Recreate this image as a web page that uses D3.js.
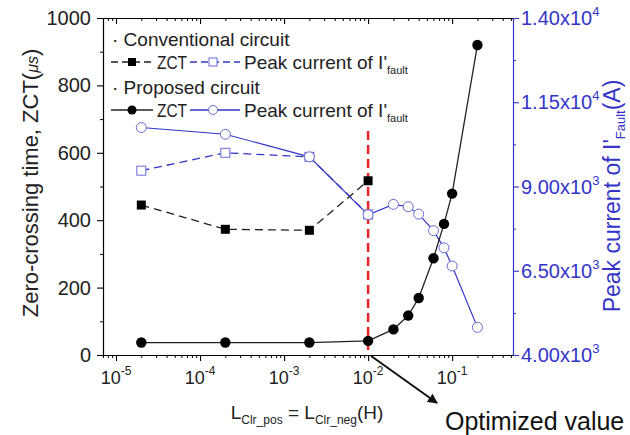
<!DOCTYPE html>
<html>
<head>
<meta charset="utf-8">
<script src="https://cdn.jsdelivr.net/npm/d3@7"></script>
<style>
  body { margin: 0; background: #fff; }
  text { font-family: Arial, "Liberation Sans", sans-serif; }
</style>
</head>
<body>
<div id="chart"></div>
<script>
// values
const convL = [2e-5, 2e-4, 2e-3, 1e-2];
const convZct = [445, 373, 370, 517];
const convPeak = [9470, 10000, 9880, 8170];

const propL = [2e-5, 2e-4, 2e-3, 1e-2, 2e-2, 3e-2, 4e-2, 6e-2, 8e-2, 1e-1, 2e-1];
const propZct = [37, 37, 37, 42, 76, 117, 169, 287, 389, 479, 920];
const propPeak = [10750, 10550, 9880, 8160, 8470, 8400, 8180, 7690, 7180, 6640, 4820];

const xMajor = [1e-5, 1e-4, 1e-3, 1e-2, 1e-1];
const yLeftTicks = [0, 200, 400, 600, 800, 1000];
const yRightTicks = [4000, 6500, 9000, 11500, 14000];
const optimumL = 1e-2;

const width = 630, height = 435;
const margin = {top: 18, right: 117, bottom: 80, left: 103};
const blue = "#3434c8";

const svg = d3.select("#chart").append("svg")
  .attr("width", width).attr("height", height);

const x = d3.scaleLog().domain([7e-6, 0.53]).range([margin.left, width - margin.right]);
const yL = d3.scaleLinear().domain([0, 1000]).range([height - margin.bottom, margin.top]);
const yR = d3.scaleLinear().domain([4000, 14000]).range([height - margin.bottom, margin.top]);

// minor ticks
let xMinor = [];
for (let e = -6; e <= 0; e++) for (let k = 2; k <= 9; k++) {
  const v = k * Math.pow(10, e);
  if (v >= x.domain()[0] && v <= x.domain()[1]) xMinor.push(v);
}
const yLeftMinor = yLeftTicks.slice(0, -1).map(v => v + 100);
const yRightMinor = yRightTicks.slice(0, -1).map(v => v + 1250);

const y0 = height - margin.bottom;

function styleAxis(g, color) {
  g.select(".domain").attr("stroke", color).attr("stroke-width", 1.2);
  g.selectAll(".tick line").attr("stroke", color).attr("stroke-width", 1.1);
}

// bottom axis
svg.append("g").attr("transform", `translate(0,${y0})`)
  .call(d3.axisBottom(x).tickValues(xMajor).tickSize(6).tickSizeOuter(0).tickFormat(""))
  .call(g => styleAxis(g, "#000"));
svg.append("g").attr("transform", `translate(0,${y0})`)
  .call(d3.axisBottom(x).tickValues(xMinor).tickSize(3).tickSizeOuter(0).tickFormat(""))
  .call(g => { g.select(".domain").remove(); g.selectAll(".tick line").attr("stroke", "#000"); });

// top axis (mirror, inside ticks)
svg.append("g").attr("transform", `translate(0,${margin.top})`)
  .call(d3.axisTop(x).tickValues(xMajor).tickSize(-6).tickSizeOuter(0).tickFormat(""))
  .call(g => styleAxis(g, "#000"));
svg.append("g").attr("transform", `translate(0,${margin.top})`)
  .call(d3.axisTop(x).tickValues(xMinor).tickSize(-3).tickSizeOuter(0).tickFormat(""))
  .call(g => { g.select(".domain").remove(); g.selectAll(".tick line").attr("stroke", "#000"); });

// x tick labels 10^n
xMajor.forEach(v => {
  const t = svg.append("text").attr("x", x(v)).attr("y", y0 + 29)
    .attr("text-anchor", "middle").attr("font-size", 18).attr("fill", "#222");
  t.append("tspan").text("10");
  t.append("tspan").attr("dy", -9).attr("font-size", 12).text(Math.round(Math.log10(v)));
});

// left axis
svg.append("g").attr("transform", `translate(${margin.left},0)`)
  .call(d3.axisLeft(yL).tickValues(yLeftTicks).tickSize(6).tickSizeOuter(0).tickPadding(6)
    .tickFormat(d3.format("d")))
  .call(g => styleAxis(g, "#000"))
  .call(g => g.selectAll(".tick text").attr("font-size", 20).attr("fill", "#222")
    .attr("font-family", "Arial, 'Liberation Sans', sans-serif"));
svg.append("g").attr("transform", `translate(${margin.left},0)`)
  .call(d3.axisLeft(yL).tickValues(yLeftMinor).tickSize(3).tickFormat(""))
  .call(g => { g.select(".domain").remove(); g.selectAll(".tick line").attr("stroke", "#000"); });

// right axis
const xr = width - margin.right;
svg.append("g").attr("transform", `translate(${xr},0)`)
  .call(d3.axisRight(yR).tickValues(yRightTicks).tickSize(6).tickSizeOuter(0).tickFormat(""))
  .call(g => styleAxis(g, blue));
svg.append("g").attr("transform", `translate(${xr},0)`)
  .call(d3.axisRight(yR).tickValues(yRightMinor).tickSize(3).tickFormat(""))
  .call(g => { g.select(".domain").remove(); g.selectAll(".tick line").attr("stroke", blue); });
yRightTicks.forEach(v => {
  const e = Math.floor(Math.log10(v));
  const t = svg.append("text").attr("x", xr + 8).attr("y", yR(v) + 7)
    .attr("font-size", 20).attr("fill", blue);
  t.append("tspan").text((v / Math.pow(10, e)).toFixed(2) + "x10");
  t.append("tspan").attr("dy", -9).attr("font-size", 13).text(e);
});

// axis titles
const lt = svg.append("text")
  .attr("transform", `translate(38,183) rotate(-90)`)
  .attr("text-anchor", "middle").attr("font-size", 22).attr("fill", "#222");
lt.append("tspan").text("Zero-crossing time, ZCT(");
lt.append("tspan").attr("font-style", "italic").attr("font-size", 16).text("μs");
lt.append("tspan").text(")");

const rt = svg.append("text")
  .attr("transform", `translate(620,196) rotate(-90)`)
  .attr("text-anchor", "middle").attr("font-size", 23).attr("fill", blue);
rt.append("tspan").text("Peak current of I'");
rt.append("tspan").attr("dy", 5).attr("font-size", 13).text("Fault");
rt.append("tspan").attr("dy", -5).text("(A)");

const bt = svg.append("text").attr("x", 307).attr("y", 419)
  .attr("text-anchor", "middle").attr("font-size", 19).attr("fill", "#222");
bt.append("tspan").text("L");
bt.append("tspan").attr("dy", 5).attr("font-size", 12).text("Clr_pos");
bt.append("tspan").attr("dy", -5).text(" = L");
bt.append("tspan").attr("dy", 5).attr("font-size", 12).text("Clr_neg");
bt.append("tspan").attr("dy", -5).text("(H)");

// red dashed line at the optimum
svg.append("line")
  .attr("x1", x(optimumL)).attr("x2", x(optimumL))
  .attr("y1", 131).attr("y2", y0)
  .attr("stroke", "#e8262a").attr("stroke-width", 2.5).attr("stroke-dasharray", "9,5");

// series lines
const conv = convL.map((l, i) => ({l, zct: convZct[i], peak: convPeak[i]}));
const prop = propL.map((l, i) => ({l, zct: propZct[i], peak: propPeak[i]}));

const lineZ = d3.line().x(d => x(d.l)).y(d => yL(d.zct));
const lineP = d3.line().x(d => x(d.l)).y(d => yR(d.peak));

svg.append("path").datum(conv).attr("d", lineP).attr("fill", "none")
  .attr("stroke", blue).attr("stroke-width", 1.3).attr("stroke-dasharray", "8,5");
svg.append("path").datum(conv).attr("d", lineZ).attr("fill", "none")
  .attr("stroke", "#222").attr("stroke-width", 1.3).attr("stroke-dasharray", "8,5");
svg.append("path").datum(prop).attr("d", lineP).attr("fill", "none")
  .attr("stroke", blue).attr("stroke-width", 1.2);
svg.append("path").datum(prop).attr("d", lineZ).attr("fill", "none")
  .attr("stroke", "#222").attr("stroke-width", 1.3);

// markers
const sq = 9;
svg.selectAll(".cpk").data(conv).join("rect")
  .attr("x", d => x(d.l) - sq / 2).attr("y", d => yR(d.peak) - sq / 2)
  .attr("width", sq).attr("height", sq)
  .attr("fill", "#fff").attr("stroke", "#6a6ad8").attr("stroke-width", 1);
svg.selectAll(".ppk").data(prop).join("circle")
  .attr("cx", d => x(d.l)).attr("cy", d => yR(d.peak)).attr("r", 5)
  .attr("fill", "#fff").attr("stroke", "#6a6ad8").attr("stroke-width", 1);
svg.selectAll(".czc").data(conv).join("rect")
  .attr("x", d => x(d.l) - sq / 2).attr("y", d => yL(d.zct) - sq / 2)
  .attr("width", sq).attr("height", sq).attr("fill", "#000");
svg.selectAll(".pzc").data(prop).join("circle")
  .attr("cx", d => x(d.l)).attr("cy", d => yL(d.zct)).attr("r", 5.2)
  .attr("fill", "#000");

// legend
const leg = svg.append("g").attr("font-size", 19).attr("fill", "#222");
function legendRow(yc, dashed, filledShape) {
  const dash = dashed ? "7,4" : null;
  leg.append("line").attr("x1", 111).attr("x2", 153).attr("y1", yc).attr("y2", yc)
    .attr("stroke", "#222").attr("stroke-width", 1.5).attr("stroke-dasharray", dash);
  leg.append("line").attr("x1", 190).attr("x2", 240).attr("y1", yc).attr("y2", yc)
    .attr("stroke", blue).attr("stroke-width", 1.5).attr("stroke-dasharray", dash);
  if (filledShape === "square") {
    leg.append("rect").attr("x", 128).attr("y", yc - 4).attr("width", 8).attr("height", 8).attr("fill", "#000");
    leg.append("rect").attr("x", 209).attr("y", yc - 4).attr("width", 8).attr("height", 8)
      .attr("fill", "#fff").attr("stroke", "#6a6ad8");
  } else {
    leg.append("circle").attr("cx", 132).attr("cy", yc).attr("r", 4.5).attr("fill", "#000");
    leg.append("circle").attr("cx", 213).attr("cy", yc).attr("r", 4.5)
      .attr("fill", "#fff").attr("stroke", "#6a6ad8");
  }
  leg.append("text").attr("x", 157).attr("y", yc + 7)
    .attr("textLength", 30).attr("lengthAdjust", "spacingAndGlyphs").text("ZCT");
  const t = leg.append("text").attr("x", 244).attr("y", yc + 7);
  t.append("tspan").text("Peak current of I'");
  t.append("tspan").attr("dy", 5).attr("font-size", 11).text("fault");
}
leg.append("text").attr("x", 112).attr("y", 46).text("· Conventional circuit");
legendRow(62, true, "square");
leg.append("text").attr("x", 112).attr("y", 94).text("· Proposed circuit");
legendRow(110, false, "circle");

// arrow to the optimum
svg.append("defs").append("marker").attr("id", "arr")
  .attr("viewBox", "0 0 10 10").attr("refX", 9).attr("refY", 5)
  .attr("markerWidth", 5).attr("markerHeight", 5).attr("orient", "auto")
  .append("path").attr("d", "M0,0L10,5L0,10z").attr("fill", "#111");
svg.append("line").attr("x1", x(optimumL) + 3).attr("y1", y0 + 1)
  .attr("x2", 437).attr("y2", 403)
  .attr("stroke", "#111").attr("stroke-width", 2).attr("marker-end", "url(#arr)");
svg.append("text").attr("x", 445).attr("y", 430).attr("font-size", 25).attr("fill", "#111")
  .text("Optimized value");
</script>
</body>
</html>
